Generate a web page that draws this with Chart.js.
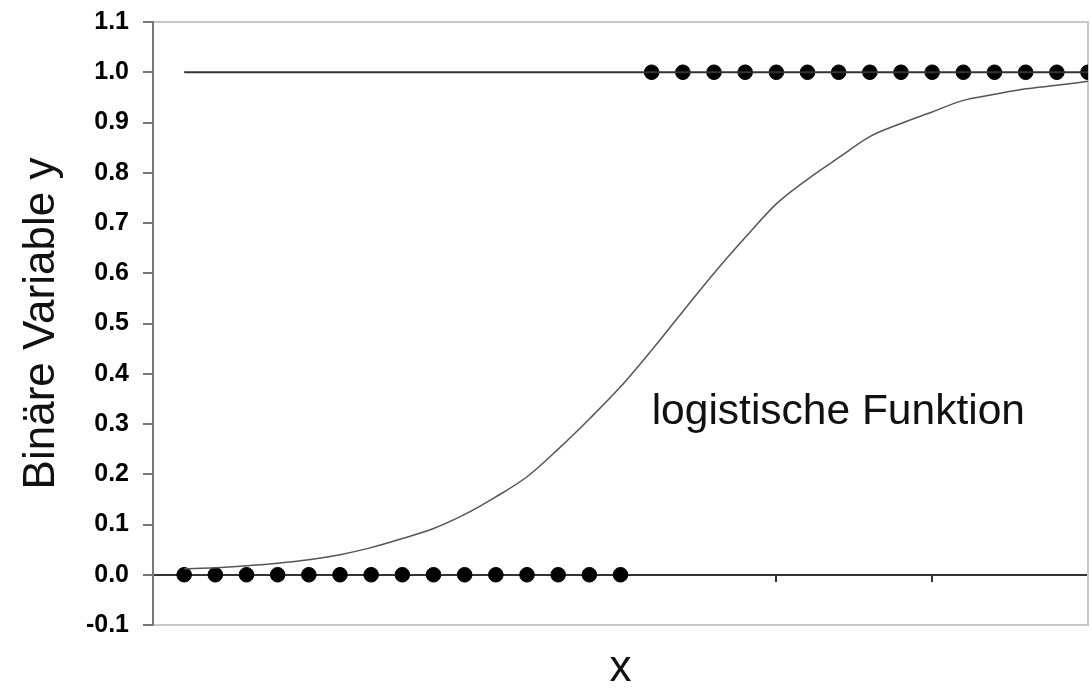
<!DOCTYPE html>
<html>
<head>
<meta charset="utf-8">
<script src="https://cdn.jsdelivr.net/npm/chart.js@4/dist/chart.umd.min.js"></script>
<style>
  html, body { margin: 0; padding: 0; background: #fff; }
  #wrap { width: 1092px; height: 688px; }
</style>
</head>
<body>
<div id="wrap"><canvas id="chart"></canvas></div>
<script>
// observations at y = 0 and y = 1
const xZero = [1, 2, 3, 4, 5, 6, 7, 8, 9, 10, 11, 12, 13, 14, 15];
const xOne = [16, 17, 18, 19, 20, 21, 22, 23, 24, 25, 26, 27, 28, 29, 30];

// logistic curve
const curveX = [1, 2, 3, 4, 5, 6, 7, 8, 9, 10, 11, 12, 13, 14, 15,
  16, 17, 18, 19, 20, 21, 22, 23, 24, 25, 26, 27, 28, 29, 30];
const curveY = [0.012, 0.014, 0.018, 0.023, 0.030, 0.040, 0.054, 0.072, 0.092, 0.120,
  0.155, 0.195, 0.250, 0.310, 0.374, 0.447, 0.524, 0.600, 0.671, 0.738,
  0.787, 0.830, 0.872, 0.898, 0.921, 0.944, 0.956, 0.967, 0.974, 0.982];

// reference line at y = 1
const oneLineX = [1, 30];

const yTicks = [-0.1, 0.0, 0.1, 0.2, 0.3, 0.4, 0.5, 0.6, 0.7, 0.8, 0.9, 1.0, 1.1];

const curveLabel = 'logistische Funktion';
const curveLabelAt = { x: 16.0, y: 0.30 };

Chart.defaults.font.family = "'Liberation Sans', Arial, sans-serif";
Chart.defaults.color = '#000';

const labelPlugin = {
  id: 'curveLabel',
  afterDatasetsDraw(chart) {
    const ctx = chart.ctx;
    const px = chart.scales.x.getPixelForValue(curveLabelAt.x);
    const py = chart.scales.y.getPixelForValue(curveLabelAt.y);
    ctx.save();
    ctx.font = "42.5px 'Liberation Sans', Arial, sans-serif";
    ctx.fillStyle = '#111';
    ctx.textAlign = 'left';
    ctx.textBaseline = 'alphabetic';
    ctx.fillText(curveLabel, px, py);
    ctx.restore();
  }
};

new Chart(document.getElementById('chart').getContext('2d'), {
  type: 'scatter',
  data: {
    datasets: [
      {
        type: 'line',
        data: curveX.map((x, i) => ({ x: x, y: curveY[i] })),
        borderColor: '#555',
        borderWidth: 1.5,
        pointRadius: 0,
        cubicInterpolationMode: 'monotone',
        fill: false
      },
      {
        type: 'line',
        data: oneLineX.map(x => ({ x: x, y: 1 })),
        borderColor: '#333',
        borderWidth: 2,
        pointRadius: 0,
        fill: false
      },
      {
        data: xZero.map(x => ({ x: x, y: 0 })),
        backgroundColor: '#000',
        borderColor: '#000',
        pointRadius: 7.3,
        pointHoverRadius: 7.3
      },
      {
        data: xOne.map(x => ({ x: x, y: 1 })),
        backgroundColor: '#000',
        borderColor: '#000',
        pointRadius: 7.3,
        pointHoverRadius: 7.3
      }
    ]
  },
  options: {
    responsive: true,
    maintainAspectRatio: false,
    animation: false,
    events: [],
    layout: { autoPadding: false, padding: { top: 22, right: 4, left: 0, bottom: 0 } },
    plugins: { legend: { display: false }, tooltip: { enabled: false } },
    scales: {
      x: {
        type: 'linear',
        axis: 'x',
        position: { y: 0 },
        min: 0,
        max: 30,
        ticks: { display: false, stepSize: 5 },
        grid: { drawOnChartArea: false, drawTicks: true, tickLength: 6, color: '#333', lineWidth: 2 },
        border: { display: true, color: '#333', width: 2 }
      },
      xb: {
        type: 'linear',
        axis: 'x',
        position: 'bottom',
        min: 0,
        max: 30,
        ticks: { display: false },
        grid: { display: false },
        border: { display: true, color: '#c8c8c8', width: 2 },
        title: {
          display: true,
          text: 'x',
          font: { size: 44, lineHeight: 0.8 },
          color: '#111',
          padding: { top: 0, bottom: 2 }
        },
        afterFit(scale) { scale.height = 63; }
      },
      xt: {
        type: 'linear',
        axis: 'x',
        position: 'top',
        min: 0,
        max: 30,
        ticks: { display: false },
        grid: { display: false },
        border: { display: true, color: '#c8c8c8', width: 2 },
        afterFit(scale) { scale.height = 0; }
      },
      y: {
        type: 'linear',
        position: 'left',
        min: -0.1,
        max: 1.1,
        afterBuildTicks(scale) { scale.ticks = yTicks.map(v => ({ value: v })); },
        ticks: {
          font: { size: 25, weight: 'bold' },
          color: '#000',
          padding: 14,
          callback: v => v.toFixed(1)
        },
        grid: { drawOnChartArea: false, drawTicks: true, tickLength: 10, color: '#777', lineWidth: 2 },
        border: { display: true, color: '#777', width: 2 },
        title: {
          display: true,
          text: 'Binäre Variable y',
          font: { size: 44, lineHeight: 1 },
          color: '#111',
          padding: { top: 20, bottom: 0 }
        },
        afterFit(scale) {
          scale.width = 153;
          scale.paddingTop = 0;
          scale.paddingBottom = 0;
        }
      },
      yr: {
        type: 'linear',
        axis: 'y',
        position: 'right',
        min: -0.1,
        max: 1.1,
        ticks: { display: false },
        grid: { display: false },
        border: { display: true, color: '#c8c8c8', width: 2 },
        afterFit(scale) { scale.width = 0; }
      }
    }
  },
  plugins: [labelPlugin]
});
</script>
</body>
</html>
